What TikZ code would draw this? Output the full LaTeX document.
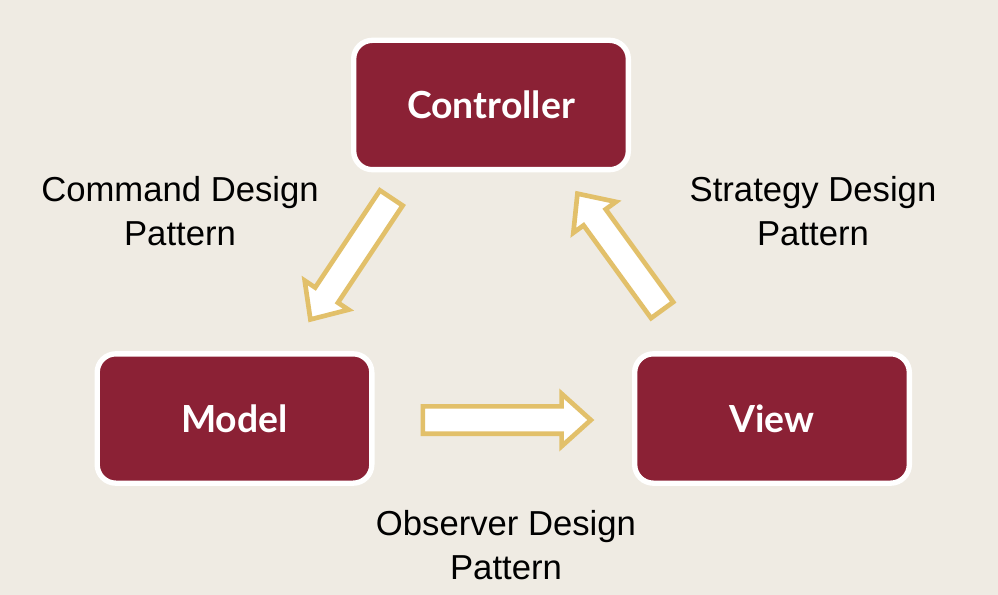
\documentclass[tikz,border=0pt]{standalone}
\usepackage{fontspec}
\setmainfont{Liberation Sans}
\newfontfamily\boxfont{Lato}
\usetikzlibrary{shapes.arrows}
\definecolor{bgbeige}{HTML}{EFEBE3}
\definecolor{boxred}{HTML}{8B2135}
\definecolor{arrowgold}{HTML}{E2C06A}

\begin{document}
\begin{tikzpicture}[x=0.75pt, y=-0.75pt,
box/.style={rectangle, rounded corners=14pt, fill=boxred, draw=white, line width=4pt, minimum width=206pt, minimum height=97pt, text=white, font=\boxfont\bfseries\fontsize{28}{32}\selectfont},
note/.style={align=center, font=\fontsize{26}{33}\selectfont},
blockarrow/.style={single arrow, draw=arrowgold, fill=white, line width=3.5pt, inner xsep=0pt, inner ysep=8.5pt, single arrow head extend=9.5pt, single arrow tip angle=84, sloped, allow upside down, pos=0, anchor=tail},
]
\fill[bgbeige] (0,0) rectangle (998,595);
\useasboundingbox (0,0) rectangle (998,595);

% the three parts
\node[box] (controller) at (491,105) {Controller};
\node[box] (model) at (234.5,418.5) {Model};
\node[box] (view) at (772,418.5) {View};

% ends of the block arrows
\coordinate (cmdtail) at (392.6,196);
\coordinate (cmdtip) at (311.7,317.5);
\coordinate (obstail) at (420.5,420);
\coordinate (obstip) at (589,420);
\coordinate (strtail) at (663.5,312);
\coordinate (strtip) at (578.7,195.4);

\path (cmdtail) -- node[blockarrow, minimum height=109.5pt] (cmdarrow) {} (cmdtip);
\path (obstail) -- node[blockarrow, minimum height=126pt] (obsarrow) {} (obstip);
\path (strtail) -- node[blockarrow, minimum height=108pt] (strarrow) {} (strtip);

% pattern names
\node[note] (cmdnote) at (180,211) {Command Design\\Pattern};
\node[note] (strnote) at (813,211) {Strategy Design\\Pattern};
\node[note] (obsnote) at (506,545) {Observer Design\\Pattern};
\end{tikzpicture}
\end{document}
